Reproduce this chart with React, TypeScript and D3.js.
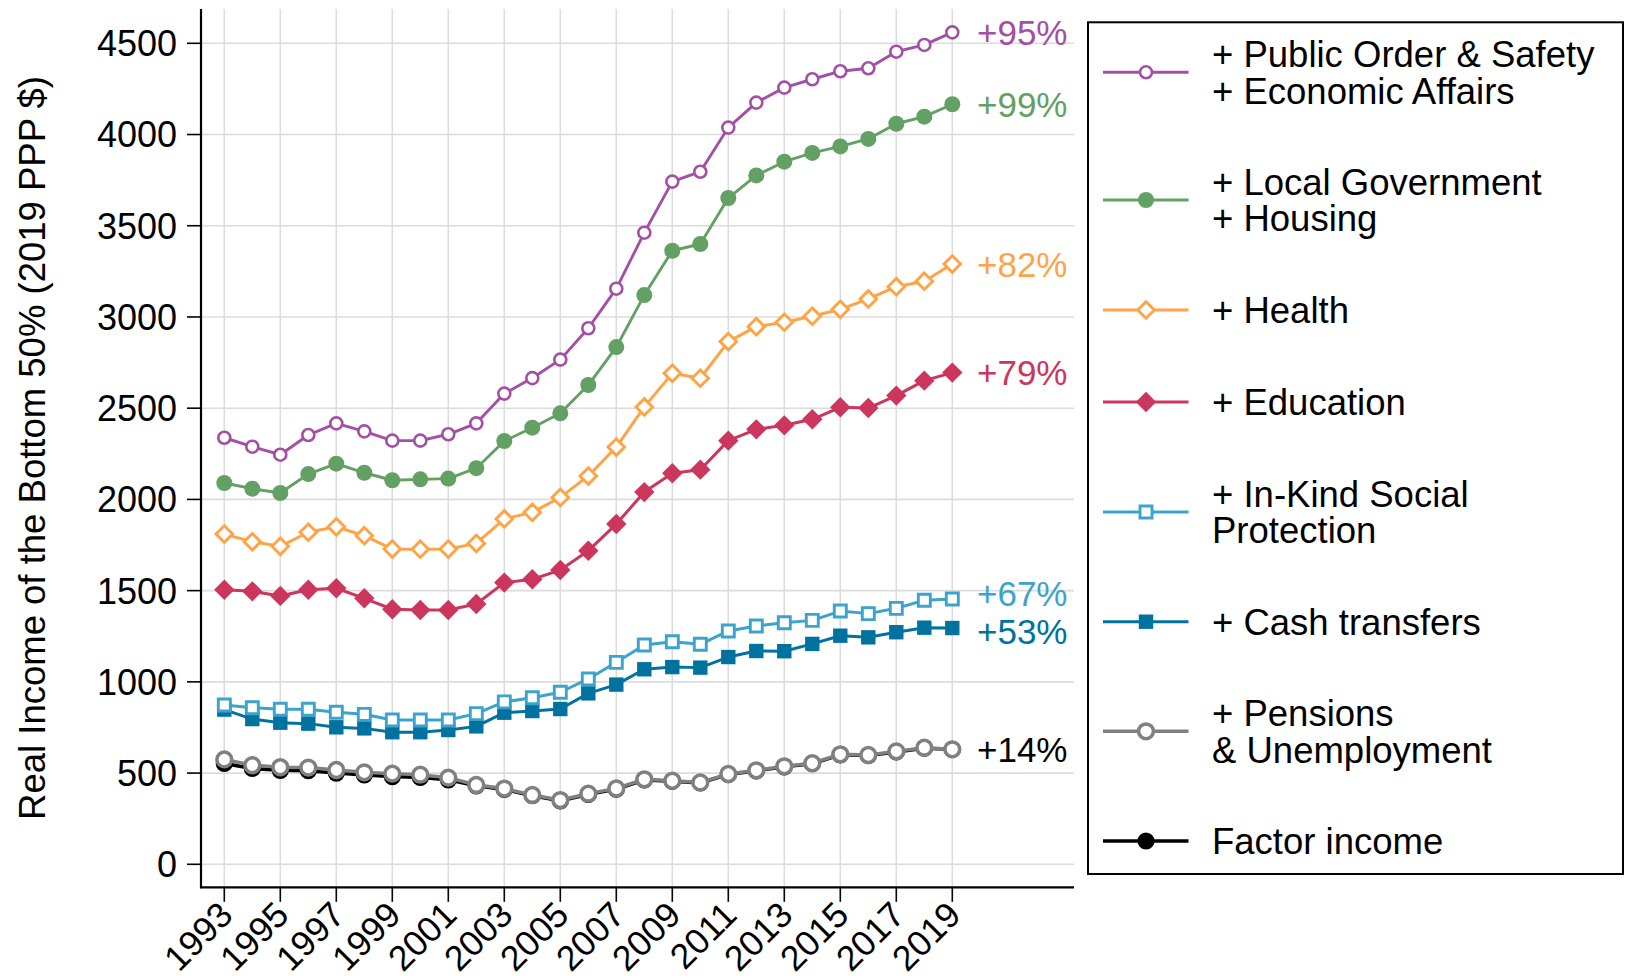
import React from "react";
import * as d3 from "d3";

// ---------------- DATA ----------------
const years = [1993, 1994, 1995, 1996, 1997, 1998, 1999, 2000, 2001, 2002, 2003, 2004, 2005, 2006, 2007, 2008, 2009, 2010, 2011, 2012, 2013, 2014, 2015, 2016, 2017, 2018, 2019];

const factorIncome = [553, 525, 515, 513, 500, 490, 481, 476, 463, 430, 410, 376, 348, 383, 412, 462, 455, 446, 492, 512, 534, 551, 600, 596, 616, 636, 630];
const pensionsUnemployment = [575, 543, 532, 530, 517, 504, 497, 491, 475, 435, 415, 380, 352, 387, 416, 466, 458, 449, 495, 515, 537, 554, 603, 599, 619, 639, 630];
const cashTransfers = [848, 796, 776, 771, 751, 745, 724, 724, 736, 756, 831, 840, 851, 937, 985, 1069, 1081, 1078, 1136, 1169, 1168, 1208, 1253, 1244, 1272, 1297, 1295];
const inKindSocial = [873, 858, 850, 850, 833, 822, 791, 791, 791, 826, 890, 913, 943, 1016, 1107, 1202, 1220, 1206, 1279, 1306, 1324, 1337, 1388, 1374, 1403, 1447, 1454];
const education = [1505, 1496, 1471, 1505, 1513, 1458, 1398, 1394, 1394, 1427, 1544, 1562, 1613, 1719, 1865, 2040, 2143, 2163, 2322, 2384, 2406, 2439, 2505, 2501, 2569, 2651, 2695];
const health = [1810, 1768, 1743, 1820, 1850, 1801, 1728, 1727, 1728, 1759, 1893, 1929, 2011, 2128, 2287, 2507, 2691, 2664, 2865, 2947, 2971, 3004, 3042, 3099, 3166, 3196, 3290];
const localGovHousing = [2090, 2059, 2035, 2139, 2196, 2146, 2105, 2110, 2114, 2171, 2320, 2393, 2472, 2627, 2835, 3120, 3363, 3400, 3652, 3776, 3851, 3899, 3935, 3976, 4059, 4098, 4166];
const publicOrderEcon = [2338, 2289, 2245, 2353, 2417, 2373, 2322, 2322, 2357, 2417, 2580, 2665, 2766, 2938, 3155, 3462, 3742, 3796, 4038, 4175, 4257, 4303, 4347, 4363, 4454, 4491, 4560];

const yTicks = [0, 500, 1000, 1500, 2000, 2500, 3000, 3500, 4000, 4500];
const xTicks = [1993, 1995, 1997, 1999, 2001, 2003, 2005, 2007, 2009, 2011, 2013, 2015, 2017, 2019];

const growthLabels = ["+95%", "+99%", "+82%", "+79%", "+67%", "+53%", "+14%"];
const growthLabelValues = [4560, 4166, 3290, 2695, 1487, 1275, 630];
const growthLabelColors = ["#a34fa5", "#63a064", "#ffa347", "#cc365d", "#3ba3cd", "#0072a0", "#000000"];

const legendLabels = [
  ["+ Public Order & Safety", "+ Economic Affairs"],
  ["+ Local Government", "+ Housing"],
  ["+ Health"],
  ["+ Education"],
  ["+ In-Kind Social", "Protection"],
  ["+ Cash transfers"],
  ["+ Pensions", "& Unemployment"],
  ["Factor income"],
];

const yTitle = "Real Income of the Bottom 50% (2019 PPP $)";

// --------------- STYLE ----------------
type Shape = "circle" | "diamond" | "square";
interface SeriesStyle {
  key: string;
  values: number[];
  color: string;
  shape: Shape;
  filled: boolean;
  size: number;
  markerStroke: number;
  lineWidth: number;
}

const series: SeriesStyle[] = [
  { key: "public", values: publicOrderEcon, color: "#a34fa5", shape: "circle", filled: false, size: 6.0, markerStroke: 2.6, lineWidth: 2.9 },
  { key: "local", values: localGovHousing, color: "#63a064", shape: "circle", filled: true, size: 8.0, markerStroke: 0, lineWidth: 2.9 },
  { key: "health", values: health, color: "#ffa347", shape: "diamond", filled: false, size: 8.3, markerStroke: 2.9, lineWidth: 3.0 },
  { key: "edu", values: education, color: "#cc365d", shape: "diamond", filled: true, size: 10.2, markerStroke: 0, lineWidth: 3.0 },
  { key: "inkind", values: inKindSocial, color: "#3ba3cd", shape: "square", filled: false, size: 6.0, markerStroke: 2.9, lineWidth: 3.0 },
  { key: "cash", values: cashTransfers, color: "#0072a0", shape: "square", filled: true, size: 7.2, markerStroke: 0, lineWidth: 3.0 },
  { key: "pensions", values: pensionsUnemployment, color: "#808080", shape: "circle", filled: false, size: 7.4, markerStroke: 3.5, lineWidth: 3.5 },
  { key: "factor", values: factorIncome, color: "#000000", shape: "circle", filled: true, size: 8.6, markerStroke: 0, lineWidth: 3.5 },
];

const FONT = "'Liberation Sans', Arial, 'DejaVu Sans', sans-serif";

function markerPath(shape: Shape, s: number): string {
  if (shape === "circle") {
    return `M ${-s} 0 A ${s} ${s} 0 1 0 ${s} 0 A ${s} ${s} 0 1 0 ${-s} 0 Z`;
  }
  if (shape === "diamond") {
    return `M 0 ${-s} L ${s} 0 L 0 ${s} L ${-s} 0 Z`;
  }
  return `M ${-s} ${-s} L ${s} ${-s} L ${s} ${s} L ${-s} ${s} Z`;
}

function Marker({ st, cx, cy }: { st: SeriesStyle; cx: number; cy: number }) {
  return (
    <path
      d={markerPath(st.shape, st.size)}
      transform={`translate(${cx},${cy})`}
      fill={st.filled ? st.color : "#ffffff"}
      stroke={st.filled ? "none" : st.color}
      strokeWidth={st.markerStroke}
    />
  );
}

export default function App() {
  const W = 1625;
  const H = 978;

  const x = d3.scaleLinear().domain([1993, 2019]).range([224.3, 952.3]);
  const y = d3.scaleLinear().domain([0, 4500]).range([864.3, 43.3]);

  const plotLeft = 201;
  const plotRight = 1074;
  const plotTop = 9;
  const plotBottom = 887.3;

  const line = d3
    .line<number>()
    .x((_, i) => x(years[i]))
    .y((d) => y(d));

  const drawOrder = [...series].reverse();

  const legendX0 = 1088;
  const legendY0 = 22.3;
  const legendW = 1623 - 1088;
  const legendH = 874 - 22.3;
  const legendMarkerY = [72.3, 200, 310, 402, 512, 621.7, 731.3, 841];
  const legendFont = 36.5;
  const legendLineGap = 36.6;

  return (
    <svg
      width={W}
      height={H}
      viewBox={`0 0 ${W} ${H}`}
      style={{ position: "absolute", left: 0, top: 0, display: "block", background: "#fff" }}
      fontFamily={FONT}
    >
      <rect x={0} y={0} width={W} height={H} fill="#ffffff" />

      {yTicks.map((t) => (
        <line key={"gy" + t} x1={plotLeft} x2={plotRight} y1={y(t)} y2={y(t)} stroke="#dcdcdc" strokeWidth={1.6} />
      ))}
      {xTicks.map((t) => (
        <line key={"gx" + t} x1={x(t)} x2={x(t)} y1={plotTop} y2={plotBottom} stroke="#dcdcdc" strokeWidth={1.6} />
      ))}

      <line x1={plotLeft} x2={plotLeft} y1={plotTop} y2={plotBottom + 1} stroke="#000" strokeWidth={2.2} />
      <line x1={plotLeft - 1} x2={plotRight} y1={plotBottom} y2={plotBottom} stroke="#000" strokeWidth={2.2} />

      {yTicks.map((t) => (
        <g key={"yt" + t}>
          <line x1={plotLeft - 14} x2={plotLeft} y1={y(t)} y2={y(t)} stroke="#000" strokeWidth={1.6} />
          <text x={177} y={y(t)} dy="0.36em" textAnchor="end" fontSize={36} fill="#000">
            {t}
          </text>
        </g>
      ))}

      {xTicks.map((t) => (
        <g key={"xt" + t}>
          <line x1={x(t)} x2={x(t)} y1={plotBottom} y2={plotBottom + 14.5} stroke="#000" strokeWidth={1.6} />
          <text
            transform={`translate(${x(t) + 1.5},${908}) rotate(-45)`}
            dy="0.36em"
            textAnchor="end"
            fontSize={35.5}
            fill="#000"
          >
            {t}
          </text>
        </g>
      ))}

      <text transform={`translate(45,448) rotate(-90)`} textAnchor="middle" fontSize={36.5} fill="#000">
        {yTitle}
      </text>

      {drawOrder.map((st) => (
        <g key={st.key}>
          <path d={line(st.values) || ""} fill="none" stroke={st.color} strokeWidth={st.lineWidth} strokeLinejoin="round" />
          {st.values.map((v, i) => (
            <Marker key={i} st={st} cx={x(years[i])} cy={y(v)} />
          ))}
        </g>
      ))}

      {growthLabels.map((lab, i) => (
        <text key={lab} x={977} y={y(growthLabelValues[i])} dy="0.36em" fontSize={35} fill={growthLabelColors[i]}>
          {lab}
        </text>
      ))}

      <rect x={legendX0} y={legendY0} width={legendW} height={legendH} fill="#ffffff" stroke="#000" strokeWidth={2} />
      {series.map((st, i) => {
        const my = legendMarkerY[i];
        const lines = legendLabels[i];
        const n = lines.length;
        return (
          <g key={"lg" + st.key}>
            <line x1={1103} x2={1188.5} y1={my} y2={my} stroke={st.color} strokeWidth={st.lineWidth} />
            <Marker st={st} cx={1146} cy={my} />
            <text x={1212} y={my - ((n - 1) / 2) * legendLineGap} dy="0.36em" fontSize={legendFont} fill="#000">
              {lines.map((ln, j) => (
                <tspan key={j} x={1212} dy={j === 0 ? "0.36em" : legendLineGap}>
                  {ln}
                </tspan>
              ))}
            </text>
          </g>
        );
      })}
    </svg>
  );
}
